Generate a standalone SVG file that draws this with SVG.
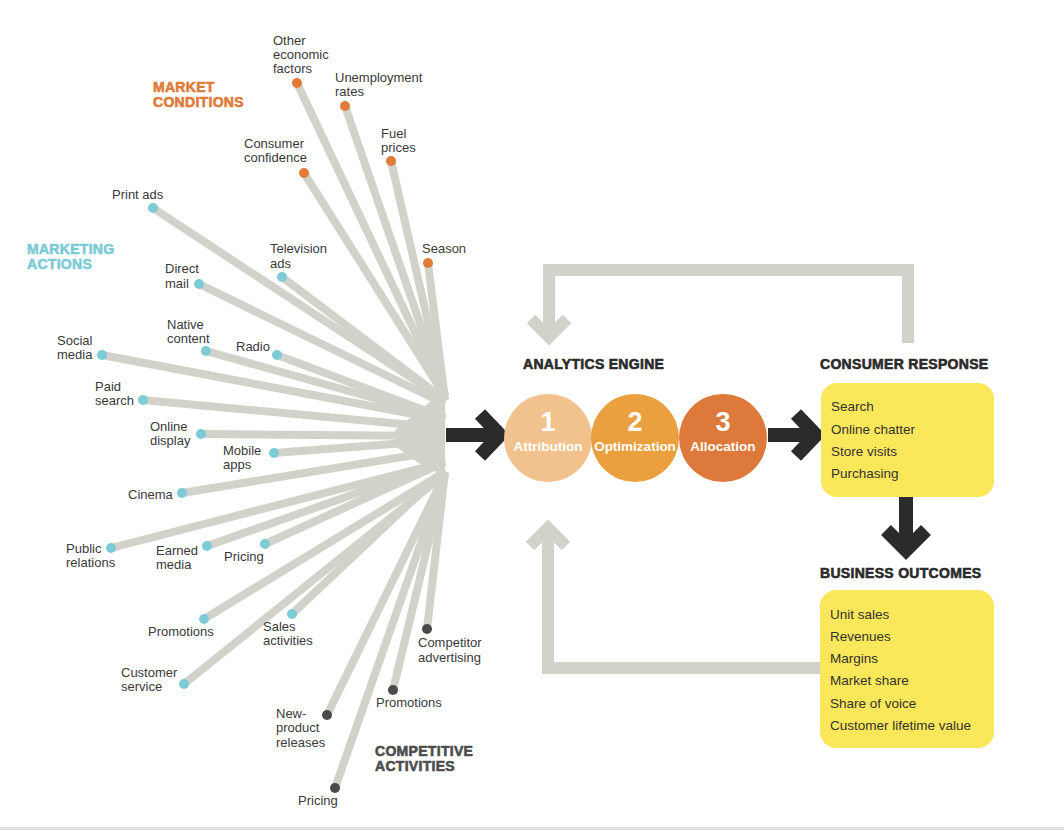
<svg xmlns="http://www.w3.org/2000/svg" width="1064" height="830" viewBox="0 0 1064 830">
  <style>
    .lbl { font-family: "Liberation Sans", Arial, sans-serif; font-size: 13px; fill: #3a3a3a; }
    .head { font-family: "Liberation Sans", Arial, sans-serif; font-size: 14px; font-weight: 900; letter-spacing: 0.3px; stroke-width: 0.6px; }
    .spoke { stroke: #d3d2ca; stroke-width: 8; fill: none; stroke-linecap: butt; }
    .loop { stroke: #d3d2ca; stroke-width: 12; fill: none; stroke-linejoin: miter; }
    .dark { stroke: #2b2b2b; stroke-width: 14; fill: none; stroke-linejoin: miter; }
    .mc { fill: #e07b3a; }
    .ma { fill: #7ccbd6; }
    .ca { fill: #4a4a4a; }
    .num { font-family: "Liberation Sans", Arial, sans-serif; font-size: 27px; font-weight: bold; fill: #fff; text-anchor: middle; }
    .step { font-family: "Liberation Sans", Arial, sans-serif; font-size: 13.5px; font-weight: bold; fill: #fff; text-anchor: middle; }
    .item { font-family: "Liberation Sans", Arial, sans-serif; font-size: 13.5px; fill: #333; }
    .box { fill: #fbe75a; }
  </style>

  <rect width="1064" height="830" fill="#fff"/>
  <rect x="0" y="827" width="1064" height="3" fill="#e2e2e2"/>

  <!-- connectors: spokes into the hub, flow arrows, feedback loops -->
  <g id="connectors">
    <polygon points="395,430 420,410 445,390 445,476 420,464 395,446" fill="#d3d2ca"/>
    <!-- market conditions -->
    <line class="spoke" x1="297" y1="83" x2="445" y2="396"/>
    <line class="spoke" x1="345" y1="106" x2="445" y2="396"/>
    <line class="spoke" x1="391" y1="161" x2="445" y2="396"/>
    <line class="spoke" x1="304" y1="173" x2="445" y2="396"/>
    <line class="spoke" x1="428" y1="263" x2="445" y2="400"/>
    <!-- marketing actions -->
    <line class="spoke" x1="153" y1="208" x2="445" y2="400"/>
    <line class="spoke" x1="199" y1="284" x2="445" y2="404"/>
    <line class="spoke" x1="282" y1="277" x2="445" y2="400"/>
    <line class="spoke" x1="206" y1="351" x2="445" y2="418"/>
    <line class="spoke" x1="277" y1="355" x2="445" y2="418"/>
    <line class="spoke" x1="102" y1="355" x2="445" y2="420"/>
    <line class="spoke" x1="143" y1="400" x2="445" y2="428"/>
    <line class="spoke" x1="201" y1="434" x2="445" y2="436"/>
    <line class="spoke" x1="274" y1="453" x2="445" y2="440"/>
    <line class="spoke" x1="182" y1="493" x2="445" y2="450"/>
    <line class="spoke" x1="111" y1="548" x2="445" y2="462"/>
    <line class="spoke" x1="207" y1="546" x2="445" y2="462"/>
    <line class="spoke" x1="265" y1="544" x2="445" y2="462"/>
    <line class="spoke" x1="204" y1="619" x2="445" y2="472"/>
    <line class="spoke" x1="292" y1="614" x2="445" y2="470"/>
    <line class="spoke" x1="184" y1="684" x2="445" y2="474"/>
    <!-- competitive activities -->
    <line class="spoke" x1="427" y1="629" x2="445" y2="472"/>
    <line class="spoke" x1="393" y1="690" x2="445" y2="474"/>
    <line class="spoke" x1="327" y1="715" x2="445" y2="474"/>
    <line class="spoke" x1="335" y1="788" x2="445" y2="474"/>

    <!-- hub to engine -->
    <line class="dark" x1="446" y1="435" x2="494" y2="435"/>
    <polyline class="dark" points="480,414 500,435 480,456"/>
    <!-- engine to consumer response -->
    <line class="dark" x1="768" y1="435" x2="812" y2="435"/>
    <polyline class="dark" points="796,414 816,435 796,456"/>
    <!-- consumer response to business outcomes -->
    <line class="dark" x1="906" y1="497" x2="906" y2="545"/>
    <polyline class="dark" points="886,530 906,550 926,530"/>

    <!-- feedback loop from consumer response -->
    <polyline class="loop" points="908,343 908,270 549,270 549,336"/>
    <polyline class="loop" points="531,319 549,337 567,319"/>
    <!-- feedback loop from business outcomes -->
    <polyline class="loop" points="820,668 548,668 548,528"/>
    <polyline class="loop" points="530,546 548,528 566,546"/>
  </g>

  <!-- group headings -->
  <g id="heading-market" class="head" fill="#e07b3a" stroke="#e07b3a">
    <text x="153" y="92">MARKET</text>
    <text x="153" y="107">CONDITIONS</text>
  </g>
  <g id="heading-marketing" class="head" fill="#7ccbd6" stroke="#7ccbd6">
    <text x="27" y="254">MARKETING</text>
    <text x="27" y="269">ACTIONS</text>
  </g>
  <g id="heading-competitive" class="head" fill="#4d4d4d" stroke="#4d4d4d">
    <text x="375" y="756">COMPETITIVE</text>
    <text x="375" y="771">ACTIVITIES</text>
  </g>

  <!-- market conditions -->
  <g id="mc-other">
    <circle class="mc" cx="297" cy="83" r="5"/>
    <text class="lbl" x="273" y="45">Other</text>
    <text class="lbl" x="273" y="59">economic</text>
    <text class="lbl" x="273" y="73">factors</text>
  </g>
  <g id="mc-unemployment">
    <circle class="mc" cx="345" cy="106" r="5"/>
    <text class="lbl" x="335" y="82">Unemployment</text>
    <text class="lbl" x="335" y="96">rates</text>
  </g>
  <g id="mc-fuel">
    <circle class="mc" cx="391" cy="161" r="5"/>
    <text class="lbl" x="381" y="138">Fuel</text>
    <text class="lbl" x="381" y="152">prices</text>
  </g>
  <g id="mc-confidence">
    <circle class="mc" cx="304" cy="173" r="5"/>
    <text class="lbl" x="244" y="148">Consumer</text>
    <text class="lbl" x="244" y="162">confidence</text>
  </g>
  <g id="mc-season">
    <circle class="mc" cx="428" cy="263" r="5"/>
    <text class="lbl" x="422" y="253">Season</text>
  </g>

  <!-- marketing actions -->
  <g id="ma-print">
    <circle class="ma" cx="153" cy="208" r="5"/>
    <text class="lbl" x="112" y="199">Print ads</text>
  </g>
  <g id="ma-direct">
    <circle class="ma" cx="199" cy="284" r="5"/>
    <text class="lbl" x="165" y="273">Direct</text>
    <text class="lbl" x="165" y="288">mail</text>
  </g>
  <g id="ma-tv">
    <circle class="ma" cx="282" cy="277" r="5"/>
    <text class="lbl" x="270" y="253">Television</text>
    <text class="lbl" x="270" y="268">ads</text>
  </g>
  <g id="ma-native">
    <circle class="ma" cx="206" cy="351" r="5"/>
    <text class="lbl" x="167" y="329">Native</text>
    <text class="lbl" x="167" y="343">content</text>
  </g>
  <g id="ma-radio">
    <circle class="ma" cx="277" cy="355" r="5"/>
    <text class="lbl" x="236" y="351">Radio</text>
  </g>
  <g id="ma-social">
    <circle class="ma" cx="102" cy="355" r="5"/>
    <text class="lbl" x="57" y="345">Social</text>
    <text class="lbl" x="57" y="359">media</text>
  </g>
  <g id="ma-paid">
    <circle class="ma" cx="143" cy="400" r="5"/>
    <text class="lbl" x="95" y="391">Paid</text>
    <text class="lbl" x="95" y="405">search</text>
  </g>
  <g id="ma-display">
    <circle class="ma" cx="201" cy="434" r="5"/>
    <text class="lbl" x="150" y="431">Online</text>
    <text class="lbl" x="150" y="445">display</text>
  </g>
  <g id="ma-mobile">
    <circle class="ma" cx="274" cy="453" r="5"/>
    <text class="lbl" x="223" y="455">Mobile</text>
    <text class="lbl" x="223" y="469">apps</text>
  </g>
  <g id="ma-cinema">
    <circle class="ma" cx="182" cy="493" r="5"/>
    <text class="lbl" x="128" y="499">Cinema</text>
  </g>
  <g id="ma-pr">
    <circle class="ma" cx="111" cy="548" r="5"/>
    <text class="lbl" x="66" y="553">Public</text>
    <text class="lbl" x="66" y="567">relations</text>
  </g>
  <g id="ma-earned">
    <circle class="ma" cx="207" cy="546" r="5"/>
    <text class="lbl" x="156" y="555">Earned</text>
    <text class="lbl" x="156" y="569">media</text>
  </g>
  <g id="ma-pricing">
    <circle class="ma" cx="265" cy="544" r="5"/>
    <text class="lbl" x="224" y="561">Pricing</text>
  </g>
  <g id="ma-promotions">
    <circle class="ma" cx="204" cy="619" r="5"/>
    <text class="lbl" x="148" y="636">Promotions</text>
  </g>
  <g id="ma-sales">
    <circle class="ma" cx="292" cy="614" r="5"/>
    <text class="lbl" x="263" y="631">Sales</text>
    <text class="lbl" x="263" y="645">activities</text>
  </g>
  <g id="ma-service">
    <circle class="ma" cx="184" cy="684" r="5"/>
    <text class="lbl" x="121" y="677">Customer</text>
    <text class="lbl" x="121" y="691">service</text>
  </g>

  <!-- competitive activities -->
  <g id="ca-advertising">
    <circle class="ca" cx="427" cy="629" r="5"/>
    <text class="lbl" x="418" y="647">Competitor</text>
    <text class="lbl" x="418" y="662">advertising</text>
  </g>
  <g id="ca-promotions">
    <circle class="ca" cx="393" cy="690" r="5"/>
    <text class="lbl" x="376" y="707">Promotions</text>
  </g>
  <g id="ca-newproduct">
    <circle class="ca" cx="327" cy="715" r="5"/>
    <text class="lbl" x="276" y="718">New-</text>
    <text class="lbl" x="276" y="732">product</text>
    <text class="lbl" x="276" y="747">releases</text>
  </g>
  <g id="ca-pricing">
    <circle class="ca" cx="335" cy="788" r="5"/>
    <text class="lbl" x="298" y="805">Pricing</text>
  </g>

  <!-- analytics engine -->
  <g id="analytics-engine">
    <text class="head" x="523" y="369" fill="#2b2b2b" stroke="#2b2b2b">ANALYTICS ENGINE</text>
    <circle cx="548" cy="438" r="44" fill="#f2c28e"/>
    <circle cx="635" cy="438" r="44" fill="#eba040"/>
    <circle cx="723" cy="438" r="44" fill="#dd7a3b"/>
    <text class="num" x="548" y="431">1</text>
    <text class="step" x="548" y="451">Attribution</text>
    <text class="num" x="635" y="431">2</text>
    <text class="step" x="635" y="451">Optimization</text>
    <text class="num" x="723" y="431">3</text>
    <text class="step" x="723" y="451">Allocation</text>
  </g>

  <!-- consumer response -->
  <g id="consumer-response">
    <text class="head" x="820" y="369" fill="#2b2b2b" stroke="#2b2b2b">CONSUMER RESPONSE</text>
    <rect class="box" x="821" y="383" width="173" height="114" rx="16"/>
    <text class="item" x="831" y="411">Search</text>
    <text class="item" x="831" y="434">Online chatter</text>
    <text class="item" x="831" y="456">Store visits</text>
    <text class="item" x="831" y="478">Purchasing</text>
  </g>

  <!-- business outcomes -->
  <g id="business-outcomes">
    <text class="head" x="820" y="578" fill="#2b2b2b" stroke="#2b2b2b">BUSINESS OUTCOMES</text>
    <rect class="box" x="820" y="590" width="174" height="158" rx="16"/>
    <text class="item" x="830" y="619">Unit sales</text>
    <text class="item" x="830" y="641">Revenues</text>
    <text class="item" x="830" y="663">Margins</text>
    <text class="item" x="830" y="685">Market share</text>
    <text class="item" x="830" y="708">Share of voice</text>
    <text class="item" x="830" y="730">Customer lifetime value</text>
  </g>
</svg>
